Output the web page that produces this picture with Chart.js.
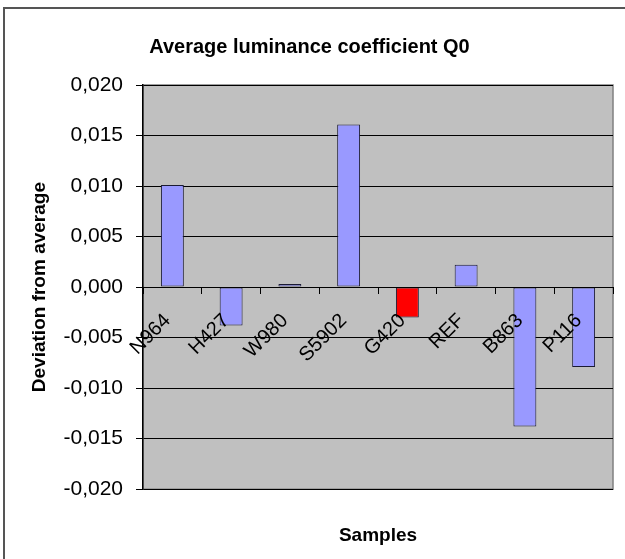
<!DOCTYPE html>
<html>
<head>
<meta charset="utf-8">
<script src="https://cdn.jsdelivr.net/npm/chart.js@4/dist/chart.umd.min.js"></script>
<style>
  body { margin: 0; background: #fff; }
  #wrap { position: relative; width: 625px; height: 559px; }
  #frame { position: absolute; left: 3px; top: 7px; right: 0; bottom: 0;
           border-top: 2px solid #555; border-left: 2px solid #555; }
  canvas { position: absolute; left: 0; top: 0; }
</style>
</head>
<body>
<div id="wrap">
  <div id="frame"></div>
  <canvas id="myChart" width="625" height="559"></canvas>
</div>
<script>
var samples = ['N964', 'H427', 'W980', 'S5902', 'G420', 'REF', 'B863', 'P116'];
var deviation = [0.0101, -0.0038, 0.0003, 0.0161, -0.0030, 0.0022, -0.0138, -0.0079];
var barColors = ['#9999FF', '#9999FF', '#9999FF', '#9999FF', '#FF0000', '#9999FF', '#9999FF', '#9999FF'];

// grey plot area with a thin grey frame, like the spreadsheet chart
var plotBg = {
  id: 'plotBg',
  beforeDraw: function (chart) {
    var a = chart.chartArea, c = chart.ctx;
    c.save();
    c.fillStyle = '#C0C0C0';
    c.fillRect(a.left, a.top, a.right - a.left, a.bottom - a.top);
    c.strokeStyle = '#808080';
    c.lineWidth = 1.5;
    c.strokeRect(a.left, a.top, a.right - a.left, a.bottom - a.top);
    c.restore();
  }
};

Chart.defaults.font.family = '"Liberation Sans", Arial, sans-serif';
Chart.defaults.color = '#000';

var ctx = document.getElementById('myChart').getContext('2d');
var myChart = new Chart(ctx, {
  type: 'bar',
  data: {
    labels: samples,
    datasets: [{
      label: 'Deviation',
      data: deviation,
      backgroundColor: barColors,
      borderColor: '#1a1a33',
      borderWidth: 1,
      borderSkipped: false,
      barPercentage: 0.39,
      categoryPercentage: 1
    }]
  },
  options: {
    responsive: false,
    animation: false,
    layout: { padding: { left: 6, right: 12, top: 0, bottom: 0 } },
    plugins: {
      legend: { display: false },
      tooltip: { enabled: false },
      title: {
        display: true,
        text: 'Average luminance coefficient Q0',
        font: { size: 20, weight: 'bold' },
        color: '#000',
        padding: { top: 35, bottom: 26 }
      }
    },
    scales: {
      x: {
        position: { y: 0 },
        grid: { display: true, drawOnChartArea: false, color: '#000', tickLength: 6, offset: true },
        border: { display: true, color: '#000', width: 1, z: 1 },
        ticks: {
          z: 1, minRotation: 45, maxRotation: 45, autoSkip: false,
          padding: 16, labelOffset: -5, font: { size: 20 }, color: '#000'
        }
      },
      x2: {
        type: 'category',
        labels: samples,
        position: 'bottom',
        grid: { display: false },
        border: { display: false },
        ticks: { display: false },
        title: {
          display: true,
          text: 'Samples',
          font: { size: 19, weight: 'bold' },
          color: '#000',
          padding: { top: 27, bottom: 12 }
        }
      },
      y: {
        min: -0.02,
        max: 0.02,
        afterFit: function (s) { s.width = 137; },
        grid: { color: '#000', lineWidth: 1, tickLength: 7 },
        border: { display: true, color: '#000', width: 1.5 },
        ticks: {
          stepSize: 0.005,
          padding: 13,
          font: { size: 21 },
          color: '#000',
          callback: function (v) { return v.toFixed(3).replace('.', ','); }
        },
        title: {
          display: true,
          text: 'Deviation from average',
          font: { size: 19, weight: 'bold' },
          color: '#000',
          padding: { top: 22, bottom: 0 }
        }
      }
    }
  },
  plugins: [plotBg]
});
</script>
</body>
</html>
